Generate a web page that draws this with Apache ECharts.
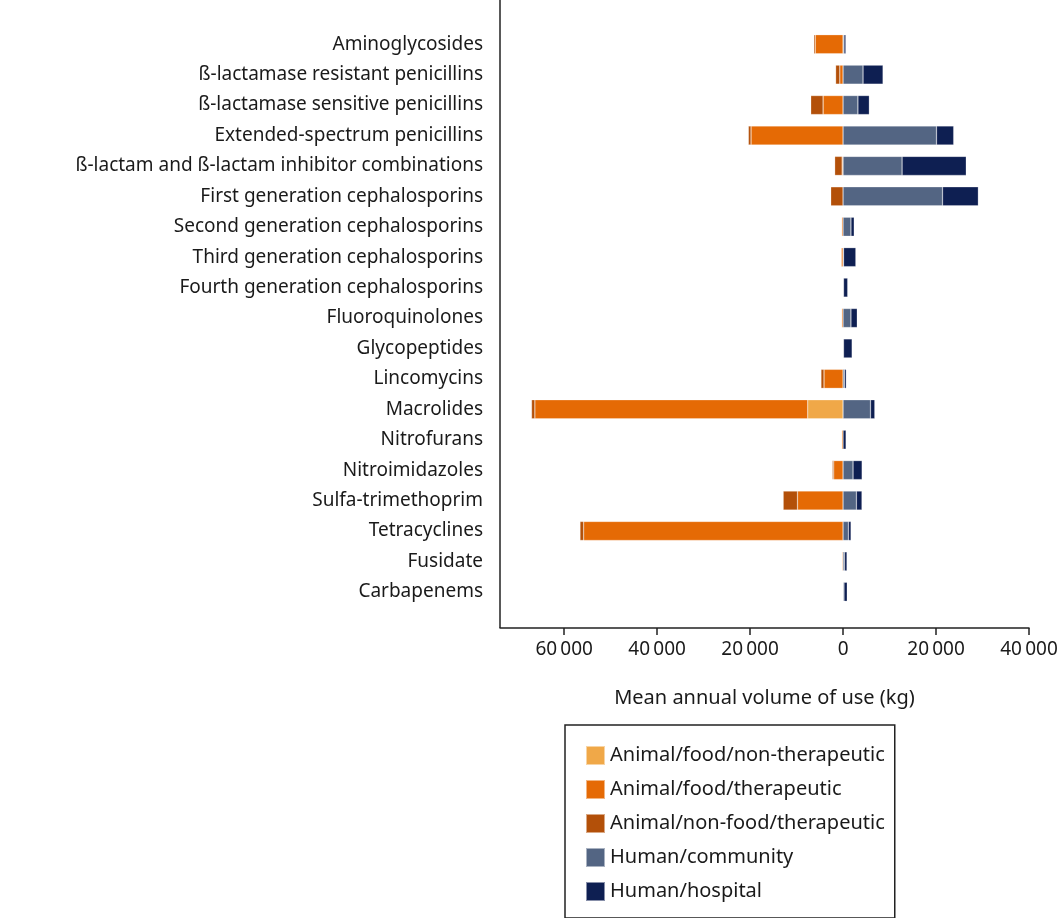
<!DOCTYPE html>
<html>
<head>
<meta charset="utf-8">
<script src="https://cdn.jsdelivr.net/npm/echarts@6/dist/echarts.min.js"></script>
<style>html,body{margin:0;padding:0;background:#fff}#main{width:1064px;height:918px}</style>
</head>
<body>
<div id="main"></div>
<script>
// categories, top to bottom
var classes = ["Aminoglycosides", "ß-lactamase resistant penicillins", "ß-lactamase sensitive penicillins",
  "Extended-spectrum penicillins", "ß-lactam and ß-lactam inhibitor combinations", "First generation cephalosporins",
  "Second generation cephalosporins", "Third generation cephalosporins", "Fourth generation cephalosporins",
  "Fluoroquinolones", "Glycopeptides", "Lincomycins", "Macrolides", "Nitrofurans", "Nitroimidazoles",
  "Sulfa-trimethoprim", "Tetracyclines", "Fusidate", "Carbapenems"];
// animal use (kg) drawn to the left of zero
var animalNonTherapeutic = [0, 0, 0, 0, 0, 0, 0, 0, 0, 0, 0, 0, 7600, 0, 0, 0, 0, 0, 0];
var animalFoodTherapeutic = [6000, 700, 4300, 19800, 200, 0, 300, 400, 0, 300, 0, 4100, 58700, 300, 2000, 9800, 55800, 200, 0];
var animalNonFood = [300, 900, 2650, 570, 1600, 2650, 0, 0, 0, 0, 0, 650, 720, 0, 300, 3080, 790, 0, 0];
// human use (kg) drawn to the right of zero
var humanCommunity = [200, 4300, 3200, 20100, 12700, 21400, 1700, 100, 100, 1700, 100, 300, 5900, 0, 2150, 2870, 1150, 300, 200];
var humanHospital = [400, 4300, 2450, 3700, 13800, 7700, 700, 2650, 900, 1350, 1850, 400, 930, 650, 1950, 1200, 570, 550, 700];
var tickValues = [-60000, -40000, -20000, 0, 20000, 40000];

var font = "Noto Sans";
var txt = "#1a1a1a";
var myChart = echarts.init(document.getElementById("main"));

function neg(arr) { return arr.map(function (v) { return -v; }); }
function fmt(v) { return String(Math.abs(v)).replace(/\B(?=(\d{3})+(?!\d))/g, "\u2009"); }

var seriesDefs = [
  ["Animal/food/non-therapeutic", neg(animalNonTherapeutic), "#f0a848"],
  ["Animal/food/therapeutic", neg(animalFoodTherapeutic), "#e56a05"],
  ["Animal/non-food/therapeutic", neg(animalNonFood), "#b35009"],
  ["Human/community", humanCommunity, "#536583"],
  ["Human/hospital", humanHospital, "#0e1f52"]
];

myChart.setOption({
  animation: false,
  textStyle: { fontFamily: font },
  grid: { left: 500, right: 35, top: 29, bottom: 311, containLabel: false },
  legend: {
    orient: "vertical", left: 565, top: 725, width: 397,
    borderColor: "#222", borderWidth: 1.5, padding: [20, 10, 16, 20],
    itemWidth: 19, itemHeight: 19, itemGap: 13,
    textStyle: { fontFamily: font, fontSize: 20, color: txt },
    icon: "rect"
  },
  xAxis: {
    type: "value", min: -73800, max: 40000, offset: 21,
    axisLine: { show: true, lineStyle: { color: "#222", width: 1.5 } },
    axisTick: { show: true, length: 7, inside: false, customValues: tickValues, lineStyle: { color: "#222", width: 1.5 } },
    axisLabel: { customValues: tickValues, formatter: fmt, fontSize: 19, color: txt, margin: 12 },
    splitLine: { show: false },
    name: "Mean annual volume of use (kg)", nameLocation: "middle", nameGap: 60,
    nameTextStyle: { fontSize: 20, color: txt, fontFamily: font }
  },
  yAxis: {
    type: "category", data: classes, inverse: true,
    axisLine: { show: false }, axisTick: { show: false },
    axisLabel: { fontSize: 19, color: txt, margin: 17 }
  },
  graphic: [{ type: "line", shape: { x1: 500, y1: 0, x2: 500, y2: 628 }, style: { stroke: "#222", lineWidth: 1.5 } }],
  series: seriesDefs.map(function (d) {
    return {
      name: d[0], type: "bar", stack: "use", data: d[1], barWidth: 19,
      itemStyle: { color: d[2], borderColor: "rgba(255,255,255,0.5)", borderWidth: 0.5 }
    };
  })
});
</script>
</body>
</html>
